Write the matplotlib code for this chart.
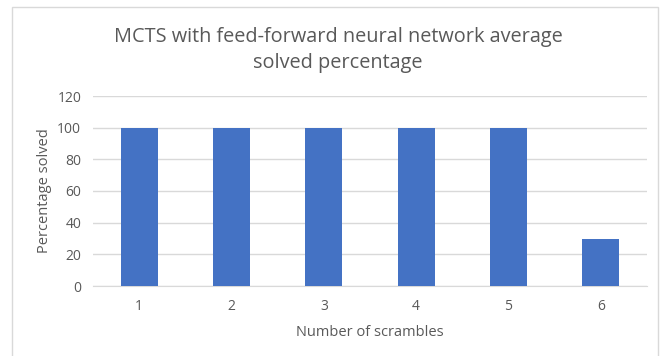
import matplotlib.pyplot as plt
from matplotlib.patches import Rectangle

scrambles = ['1', '2', '3', '4', '5', '6']
solved_pct = [100, 100, 100, 100, 100, 30]

TEXT = '#595959'
BAR = '#4472C4'
GRID = '#D9D9D9'

plt.rcParams['font.family'] = ['Open Sans', 'DejaVu Sans']

fig = plt.figure(figsize=(6.65, 3.56), dpi=100)
# plot area in pixels: x 93..647, y 96..286 (y=0 to 120)
ax = fig.add_axes([93 / 665, 1 - 286 / 356, (647 - 93) / 665, (286 - 96) / 356])

x = range(len(scrambles))
ax.bar(x, solved_pct, width=0.4, color=BAR, zorder=3)
ax.set_xlim(-0.5, len(scrambles) - 0.5)
ax.set_ylim(0, 120)
ax.set_yticks(range(0, 121, 20))
ax.set_xticks(list(x))
ax.set_xticklabels(scrambles)
ax.grid(axis='y', color=GRID, linewidth=1, zorder=0)
for s in ['top', 'right', 'left']:
    ax.spines[s].set_visible(False)
ax.spines['bottom'].set_color(GRID)
ax.tick_params(length=0, colors=TEXT, labelsize=10)
ax.tick_params(axis='x', pad=9)
ax.tick_params(axis='y', pad=8.5)
ax.set_xlabel('Number of scrambles', color=TEXT, fontsize=10.5, labelpad=8)
ax.set_ylabel('Percentage solved', color=TEXT, fontsize=10.5, labelpad=4)

fig.text(338 / 665, 1 - 50 / 356, 'MCTS with feed-forward neural network average\nsolved percentage',
         ha='center', va='center', color=TEXT, fontsize=14.3, linespacing=1.45)

# outer chart border
fig.patches.append(Rectangle((12 / 665, -0.01), (658 - 12) / 665, 1 - 7 / 356 + 0.01,
                             transform=fig.transFigure, fill=False,
                             edgecolor='#D9D9D9', linewidth=1))

fig.savefig('out.png', dpi=100)
